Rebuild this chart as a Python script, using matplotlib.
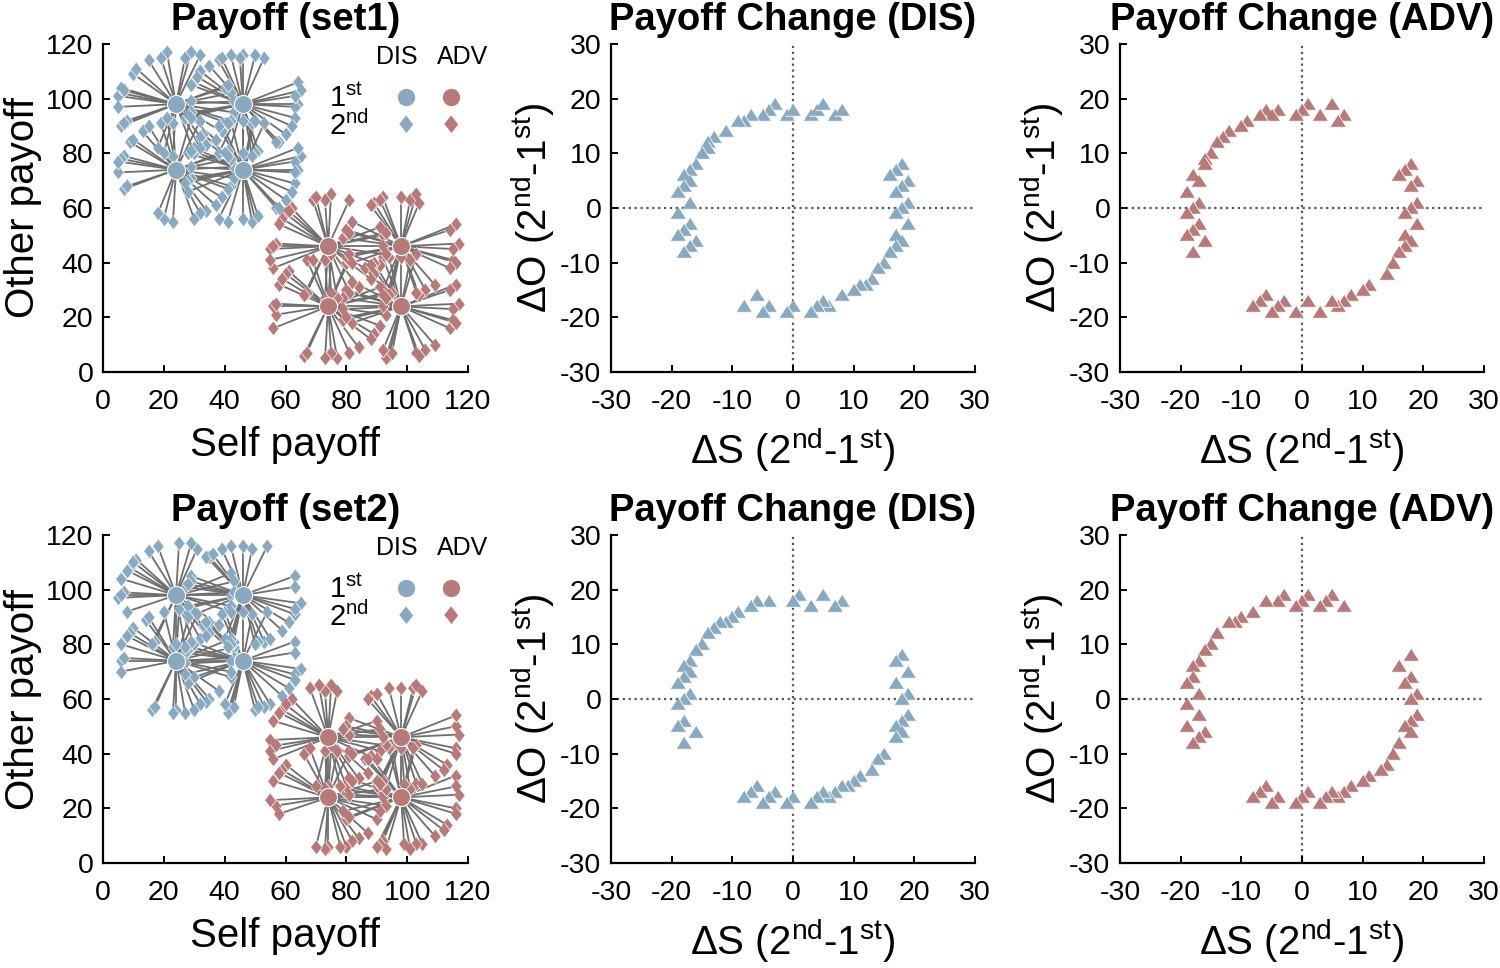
import numpy as np
import matplotlib
matplotlib.use('Agg')
import matplotlib.pyplot as plt
from matplotlib.collections import LineCollection

plt.rcParams['font.family'] = ['Liberation Sans', 'DejaVu Sans']
plt.rcParams['mathtext.fontset'] = 'custom'
plt.rcParams['mathtext.rm'] = 'Liberation Sans'
plt.rcParams['mathtext.it'] = 'Liberation Sans:italic'
plt.rcParams['mathtext.bf'] = 'Liberation Sans:bold'
plt.rcParams['mathtext.default'] = 'regular'
plt.rcParams['axes.unicode_minus'] = False

# ---------------- data ----------------
# first-option payoffs (self, other) for the four anchor points of each condition
dis_self = [24, 46, 24, 46]
dis_other = [98, 98, 74, 74]
adv_self = [74, 98, 74, 98]
adv_other = [46, 46, 24, 24]

# payoff changes (2nd - 1st)
s1_dis_dS = [-3, -4, -5, -7, -8, -9, -11, -13, -14, -14, -15, -16, -17, -18, -17, -18, -19, -17, -19, -17, -18, -19, -16, -17, -18,
             -1, 0, 3, 4, 5, 7, 8,
             18, 17, 16, 19, 18, 17, 19, 18, 17, 19, 17, 18, 17, 16, 15, 14, 13, 12, 11, 10, 8, 6, 5, 4, 3, 0, -1, -4, -5, -6, -8]
s1_dis_dO = [19, 18, 17, 17, 16, 16, 14, 13, 12, 11, 10, 8, 7, 6, 5, 4, 3, 1, -1, -3, -4, -5, -6, -7, -8,
             17, 18, 17, 18, 19, 17, 18,
             8, 7, 6, 5, 4, 3, 1, 0, -1, -3, -5, -6, -7, -8, -10, -11, -13, -14, -14, -15, -16, -18, -17, -18, -19, -18, -19, -18, -19, -16, -18]

s1_adv_dS = [1, 0, -1, 5, 3, 7, 6, -4, -6, -5, -7, -9, -10, -12, -13, -14, -15, -16, -16, -18, -17, -19, -17, -18, -19, -17, -18, -19, -16, -18,
             18, 17, 16, 19, 18, 19, 18, 17, 19, 17, 18, 17, 16, 15, 14, 11, 10, 8, 7, 6, 5, 3, 1, -1, -3, -4, -5, -6, -7, -8]
s1_adv_dO = [19, 18, 17, 19, 17, 17, 16, 18, 18, 17, 17, 16, 15, 14, 13, 12, 10, 9, 8, 6, 5, 3, 1, 0, -1, -3, -4, -5, -6, -8,
             8, 7, 6, 5, 4, 1, 0, -1, -3, -5, -6, -7, -8, -10, -12, -14, -15, -16, -17, -18, -17, -19, -17, -19, -17, -18, -19, -16, -17, -18]

s2_dis_dS = [1, 0, 5, 3, 8, 7, -4, -6, -7, -9, -10, -11, -12, -13, -14, -15, -16, -17, -18, -17, -18, -19, -17, -18, -19, -18, -19, -16, -18,
             18, 17, 19, 17, 19, 18, 19, 18, 17, 18, 17, 15, 14, 13, 11, 10, 9, 8, 7, 6, 5, 4, 3, 0, -1, -3, -4, -5, -6, -7, -8]
s2_dis_dO = [19, 18, 19, 17, 18, 17, 18, 18, 17, 16, 15, 14, 14, 13, 12, 10, 9, 7, 6, 5, 4, 3, 1, 0, -1, -4, -5, -6, -8,
             8, 7, 5, 3, 1, 0, -3, -4, -5, -6, -7, -10, -11, -13, -14, -15, -16, -16, -17, -18, -17, -18, -19, -18, -19, -17, -18, -19, -16, -17, -18]

s2_adv_dS = [1, 0, -1, 5, 4, 3, 7, -3, -4, -6, -8, -10, -11, -12, -14, -15, -16, -17, -18, -18, -19, -17, -19, -17, -19, -16, -17, -18,
             18, 16, 18, 17, 19, 18, 19, 18, 17, 18, 16, 15, 14, 13, 11, 10, 8, 7, 6, 5, 4, 3, 1, 0, -1, -4, -5, -6, -7, -8]
s2_adv_dO = [19, 18, 17, 19, 18, 17, 17, 19, 18, 18, 16, 15, 14, 14, 12, 10, 9, 7, 6, 4, 3, 1, -1, -3, -5, -6, -7, -8,
             8, 6, 4, 3, 1, 0, -3, -4, -5, -6, -8, -10, -12, -13, -14, -15, -16, -17, -18, -17, -18, -19, -17, -18, -19, -18, -19, -16, -17, -18]

# anchor (first option) used with each change, two presentations per change
anchor_a = "0123102330211320012331020213301212030321103223010132201331023012013210"
anchor_b = "2301321012133002230113203130123030212103321001232310023113201230231032"

ticks_payoff = [0, 20, 40, 60, 80, 100, 120]
ticks_change = [-30, -20, -10, 0, 10, 20, 30]

# ---------------- style ----------------
BLUE = '#88A9BF'
RED = '#B87979'
LINE = '#6E6E6E'
DIAMOND = [(0, 1), (0.78, 0), (0, -1), (-0.78, 0)]
TRI = [(-1, -0.72), (1, -0.72), (0, 0.88)]

W, H = 1500, 968
fig = plt.figure(figsize=(W / 100, H / 100), dpi=100)


def add_ax(l, t, r, b):
    return fig.add_axes([l / W, 1 - b / H, (r - l) / W, (b - t) / H])


def style(ax):
    for s in ['top', 'right']:
        ax.spines[s].set_visible(False)
    for s in ['left', 'bottom']:
        ax.spines[s].set_linewidth(1.6)
    ax.tick_params(direction='in', length=5, width=1.4, labelsize=20.5, pad=7)
    ax.tick_params(axis='x', pad=12)


def payoff_panel(ax, title, sets):
    style(ax)
    for cs, co, dS, dO, col in sets:
        segs = []
        px, py = [], []
        for anchors in (anchor_a, anchor_b):
            for d_s, d_o, k in zip(dS, dO, anchors):
                k = int(k)
                segs.append([(cs[k], co[k]), (cs[k] + d_s, co[k] + d_o)])
                px.append(cs[k] + d_s)
                py.append(co[k] + d_o)
        ax.add_collection(LineCollection(segs, colors=LINE, linewidths=1.3, zorder=1))
        ax.plot(px, py, ls='none', marker=DIAMOND, ms=10.5, mfc=col, mec='white', mew=0.5, zorder=2)
    for cs, co, dS, dO, col in sets:
        ax.plot(cs, co, ls='none', marker='o', ms=13, mfc=col, mec='white', mew=0.8, zorder=3)
    ax.set_xlim(0, 120)
    ax.set_ylim(0, 120)
    ax.set_xticks(ticks_payoff)
    ax.set_yticks(ticks_payoff)
    ax.set_xlabel('Self payoff', fontsize=29, labelpad=8)
    ax.set_ylabel('Other payoff', fontsize=29, labelpad=3)
    ax.set_title(title, fontsize=27.5, fontweight='bold', pad=10)
    # legend
    ax.text(0.805, 0.96, 'DIS', transform=ax.transAxes, ha='center', va='center', fontsize=18)
    ax.text(0.984, 0.96, 'ADV', transform=ax.transAxes, ha='center', va='center', fontsize=18)
    ax.text(0.618, 0.835, '1$^{st}$', transform=ax.transAxes, ha='left', va='center', fontsize=21)
    ax.text(0.618, 0.752, '2$^{nd}$', transform=ax.transAxes, ha='left', va='center', fontsize=21)
    ax.plot([0.830], [0.838], transform=ax.transAxes, marker='o', ms=13.5, mfc=BLUE, mec='white', ls='none', clip_on=False)
    ax.plot([0.953], [0.838], transform=ax.transAxes, marker='o', ms=13.5, mfc=RED, mec='white', ls='none', clip_on=False)
    ax.plot([0.830], [0.756], transform=ax.transAxes, marker=DIAMOND, ms=14, mfc=BLUE, mec='white', ls='none', clip_on=False)
    ax.plot([0.953], [0.756], transform=ax.transAxes, marker=DIAMOND, ms=14, mfc=RED, mec='white', ls='none', clip_on=False)


def change_panel(ax, title, dS, dO, col):
    style(ax)
    ax.axhline(0, ls=':', color='#555555', lw=1.6, zorder=1)
    ax.axvline(0, ls=':', color='#555555', lw=1.6, zorder=1)
    ax.plot(dS, dO, ls='none', marker=TRI, ms=11.5, mfc=col, mec='white', mew=0.6, zorder=2)
    ax.set_xlim(-30, 30)
    ax.set_ylim(-30, 30)
    ax.set_xticks(ticks_change)
    ax.set_yticks(ticks_change)
    ax.set_xlabel(r'$\Delta$S (2$^{nd}$-1$^{st}$)', fontsize=29, labelpad=8)
    ax.set_ylabel(r'$\Delta$O (2$^{nd}$-1$^{st}$)', fontsize=29, labelpad=2)
    ax.set_title(title, fontsize=27.5, fontweight='bold', pad=10)


rows = [(44, 372), (535, 863)]
cols = [(103, 468), (611, 975), (1120, 1484)]

data = [
    ('Payoff (set1)', s1_dis_dS, s1_dis_dO, s1_adv_dS, s1_adv_dO),
    ('Payoff (set2)', s2_dis_dS, s2_dis_dO, s2_adv_dS, s2_adv_dO),
]

for (t, b), (title, dd_s, dd_o, ad_s, ad_o) in zip(rows, data):
    ax0 = add_ax(cols[0][0], t, cols[0][1], b)
    payoff_panel(ax0, title, [
        (dis_self, dis_other, dd_s, dd_o, BLUE),
        (adv_self, adv_other, ad_s, ad_o, RED),
    ])
    ax1 = add_ax(cols[1][0], t, cols[1][1], b)
    change_panel(ax1, 'Payoff Change (DIS)', dd_s, dd_o, BLUE)
    ax2 = add_ax(cols[2][0], t, cols[2][1], b)
    change_panel(ax2, 'Payoff Change (ADV)', ad_s, ad_o, RED)

fig.savefig('out.png', dpi=100)
